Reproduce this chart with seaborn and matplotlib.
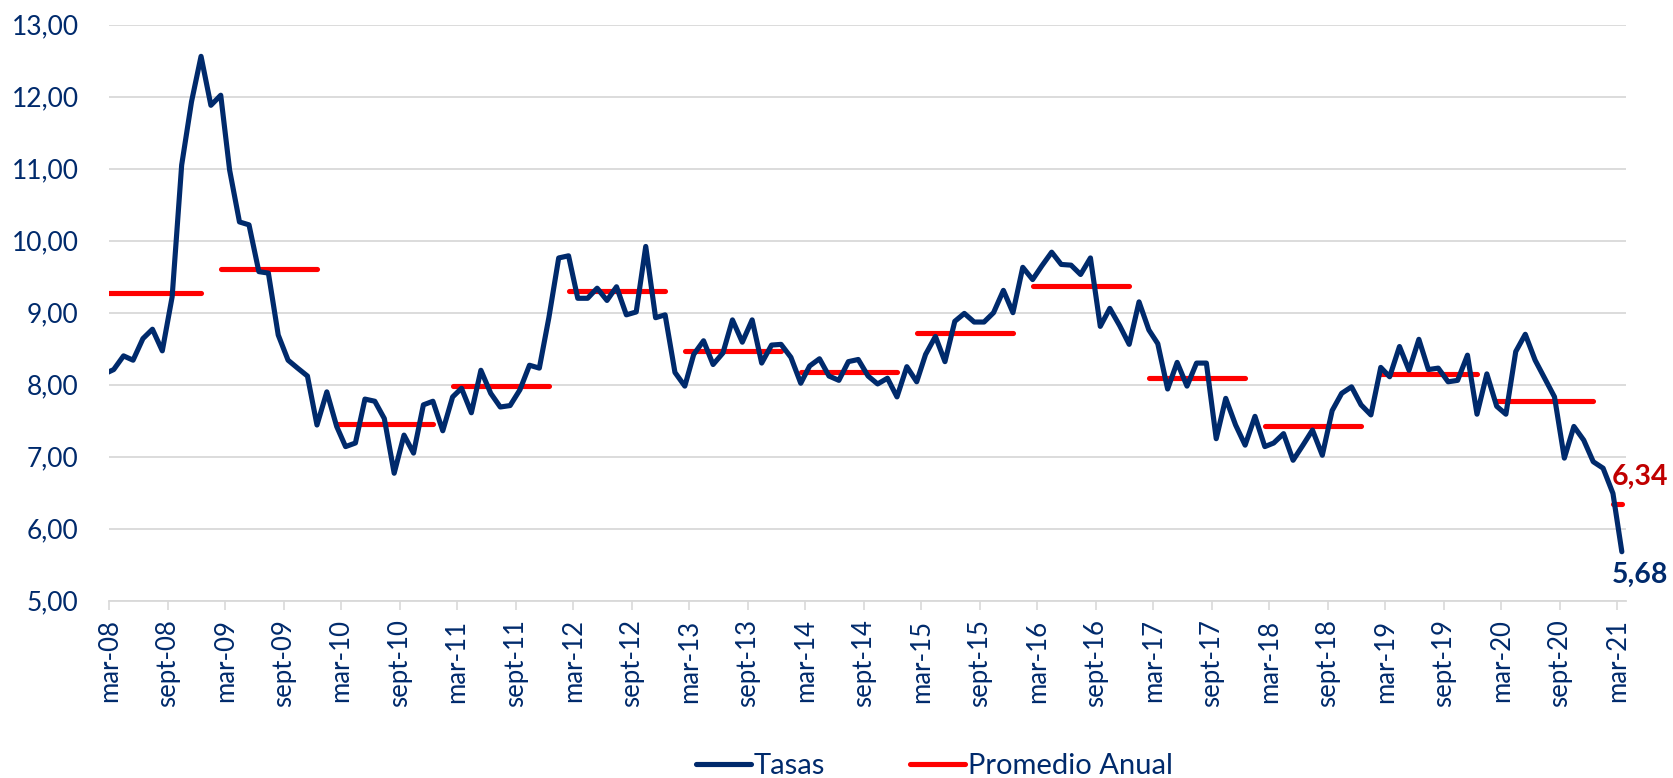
import pandas as pd
import numpy as np
import matplotlib
matplotlib.use('Agg')
import matplotlib.pyplot as plt
import seaborn as sns
from matplotlib.lines import Line2D

# ------------------------------------------------------------
# data (monthly rate, feb-08 .. mar-21)
# feb-08 sits just left of the axis start, it only shapes the first segment
# ------------------------------------------------------------
tasas = [
    8.15,                                                                   # feb-08
    8.21, 8.40, 8.34, 8.64, 8.77, 8.47, 9.22, 11.05, 11.93, 12.56,          # 2008
    11.88, 12.02, 10.98, 10.26, 10.22, 9.57, 9.55, 8.69, 8.34, 8.23, 8.12, 7.44,   # 2009
    7.90, 7.42, 7.14, 7.19, 7.80, 7.77, 7.53, 6.77, 7.30, 7.05, 7.72, 7.77,        # 2010
    7.36, 7.83, 7.95, 7.61, 8.20, 7.88, 7.69, 7.71, 7.93, 8.27, 8.23, 8.93,        # 2011
    9.76, 9.79, 9.20, 9.20, 9.34, 9.17, 9.36, 8.97, 9.01, 9.92, 8.93, 8.97,        # 2012
    8.17, 7.98, 8.42, 8.61, 8.28, 8.44, 8.90, 8.59, 8.90, 8.30, 8.55, 8.56,        # 2013
    8.38, 8.02, 8.26, 8.36, 8.12, 8.06, 8.32, 8.35, 8.12, 8.01, 8.09, 7.83,        # 2014
    8.25, 8.04, 8.42, 8.67, 8.32, 8.88, 8.99, 8.87, 8.87, 9.00, 9.31, 9.00,        # 2015
    9.63, 9.46, 9.65, 9.84, 9.67, 9.66, 9.53, 9.76, 8.81, 9.06, 8.82, 8.56,        # 2016
    9.15, 8.76, 8.57, 7.94, 8.31, 7.98, 8.30, 8.30, 7.25, 7.81, 7.44, 7.16,        # 2017
    7.56, 7.14, 7.19, 7.32, 6.95, 7.16, 7.37, 7.02, 7.64, 7.88, 7.97, 7.72,        # 2018
    7.58, 8.24, 8.11, 8.53, 8.20, 8.63, 8.21, 8.23, 8.04, 8.06, 8.41, 7.59,        # 2019
    8.15, 7.70, 7.59, 8.46, 8.70, 8.34, 8.09, 7.83, 6.98, 7.42, 7.23, 6.93,        # 2020
    6.84, 6.49, 5.68,                                                      # 2021
]

years = list(range(2008, 2022))
promedio_anual = [9.27, 9.61, 7.45, 7.98, 9.30, 8.47, 8.17, 8.72, 9.37, 8.09, 7.42, 8.15, 7.78, 6.34]

tick_dates = pd.date_range('2008-03-01', '2021-03-01', freq='6MS')
tick_labels = [('mar-' if d.month == 3 else 'sept-') + d.strftime('%y') for d in tick_dates]
y_ticks = list(range(5, 14))
y_labels = [f'{v:.2f}'.replace('.', ',') for v in y_ticks]

navy = '#002A6C'
red = '#FF0000'
dark_red = '#C00000'
grid_gray = '#D9D9D9'

# monthly points sit mid-month, ticks are on the 1st
dates = pd.date_range('2008-02-01', periods=len(tasas), freq='MS') + pd.Timedelta(days=14)
df = pd.DataFrame({'fecha': dates, 'tasa': tasas})
df['year'] = df['fecha'].dt.year

# annual average drawn feb..dec of each year (january left as the gap)
avg_df = df[df['fecha'].dt.month != 1].copy()
avg_df['promedio'] = avg_df['year'].map(dict(zip(years, promedio_anual)))

# ------------------------------------------------------------
# figure
# ------------------------------------------------------------
sns.set_theme(style='white')
plt.rcParams['font.family'] = ['Lato', 'DejaVu Sans']

fig = plt.figure(figsize=(16.73, 7.78), dpi=100)
ax = fig.add_axes([0.0653, 0.2279, 0.9064, 0.7404])

sns.lineplot(data=avg_df, x='fecha', y='promedio', units='year', estimator=None,
             color=red, linewidth=3.7, solid_capstyle='round', ax=ax, zorder=3)
sns.lineplot(data=df, x='fecha', y='tasa', estimator=None, color=navy,
             linewidth=3.7, solid_joinstyle='round', ax=ax, zorder=4)

ax.set_xlim(pd.Timestamp('2008-03-01'), pd.Timestamp('2021-03-27'))
ax.set_ylim(5, 13)

ax.set_yticks(y_ticks)
ax.set_yticklabels(y_labels)
ax.set_xticks(tick_dates)
ax.set_xticklabels(tick_labels, rotation=90)

ax.grid(axis='y', color=grid_gray, linewidth=1.3)
ax.grid(axis='x', visible=False)
ax.set_axisbelow(True)
for side in ['left', 'right', 'top']:
    ax.spines[side].set_visible(False)
ax.spines['bottom'].set_color(grid_gray)
ax.spines['bottom'].set_linewidth(1.3)

ax.tick_params(axis='y', length=0, pad=22, labelsize=19, labelcolor=navy)
ax.tick_params(axis='x', bottom=True, direction='out', length=6.5, width=1.2,
               color=grid_gray, pad=7, labelsize=18.5, labelcolor=navy)
ax.set_xlabel('')
ax.set_ylabel('')

# end labels
last_date = df['fecha'].iloc[-1]
ax.annotate(f'{promedio_anual[-1]:.2f}'.replace('.', ','), xy=(last_date, promedio_anual[-1]),
            xytext=(13, 20), textcoords='offset points', ha='center', va='center',
            fontsize=20.5, fontweight='bold', color=dark_red, annotation_clip=False)
ax.annotate(f'{tasas[-1]:.2f}'.replace('.', ','), xy=(last_date, tasas[-1]),
            xytext=(13, -17), textcoords='offset points', ha='center', va='center',
            fontsize=20.5, fontweight='bold', color=navy, annotation_clip=False)

# legend at the bottom
handles = [Line2D([0], [0], color=navy, linewidth=3.7, solid_capstyle='round'),
           Line2D([0], [0], color=red, linewidth=3.7, solid_capstyle='round')]
fig.legend(handles, ['Tasas', 'Promedio Anual'], loc='center',
           bbox_to_anchor=(0.5586, 0.0154), ncol=2, frameon=False,
           fontsize=21, labelcolor=navy, handlelength=1.9, handletextpad=0.1,
           columnspacing=2.9)

plt.savefig('out.png', dpi=100)
plt.close()
